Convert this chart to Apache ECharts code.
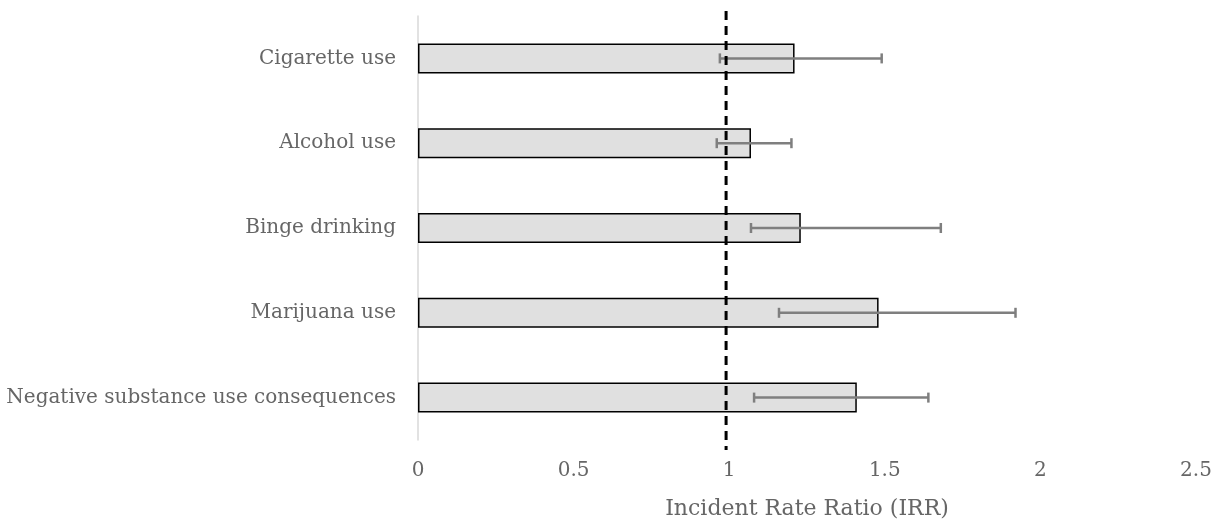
<!DOCTYPE html>
<html>
<head>
<meta charset="utf-8">
<script src="https://cdn.jsdelivr.net/npm/echarts@6/dist/echarts.min.js"></script>
<style>
html,body{margin:0;padding:0;background:#fff;}
#chart{width:1228px;height:525px;}
</style>
</head>
<body>
<div id="chart"></div>
<script>
var categories = ['Cigarette use', 'Alcohol use', 'Binge drinking', 'Marijuana use', 'Negative substance use consequences'];
var irrValues = [1.21, 1.07, 1.23, 1.48, 1.41];
var ciLower = [0.97, 0.96, 1.07, 1.16, 1.08];
var ciUpper = [1.49, 1.20, 1.68, 1.92, 1.64];
var referenceLine = 0.99;
var xTicks = {min: 0, max: 2.5, interval: 0.5};
var xAxisTitle = 'Incident Rate Ratio (IRR)';

var FONT = 'DejaVu Serif';
var TXT = '#666666';

var errData = categories.map(function (c, i) { return [i, ciLower[i], ciUpper[i]]; });

var chart = echarts.init(document.getElementById('chart'));
chart.setOption({
  animation: false,
  backgroundColor: '#ffffff',
  grid: {left: 418, right: 32, top: 16, bottom: 84, containLabel: false},
  xAxis: {
    type: 'value', min: xTicks.min, max: xTicks.max, interval: xTicks.interval,
    splitLine: {show: false}, axisLine: {show: false}, axisTick: {show: false},
    axisLabel: {color: TXT, fontFamily: FONT, fontSize: 20, margin: 21},
    name: xAxisTitle, nameLocation: 'middle', nameGap: 58,
    nameTextStyle: {color: TXT, fontFamily: FONT, fontSize: 22}
  },
  yAxis: {
    type: 'category', data: categories, inverse: true,
    axisLine: {show: true, lineStyle: {color: '#d9d9d9', width: 1.5}},
    axisTick: {show: false},
    axisLabel: {color: TXT, fontFamily: FONT, fontSize: 20, margin: 22}
  },
  series: [
    {
      type: 'bar', data: irrValues, barWidth: 30,
      itemStyle: {color: '#e0e0e0', borderColor: '#000', borderWidth: 1.5},
      z: 2
    },
    {
      type: 'custom', data: errData, z: 3,
      encode: {x: [1, 2], y: 0},
      renderItem: function (params, api) {
        var ci = api.value(0);
        var lo = api.coord([api.value(1), ci]);
        var hi = api.coord([api.value(2), ci]);
        var h = 5;
        var st = {stroke: '#7f7f7f', lineWidth: 2.5};
        return {type: 'group', children: [
          {type: 'line', shape: {x1: lo[0], y1: lo[1], x2: hi[0], y2: hi[1]}, style: st},
          {type: 'line', shape: {x1: lo[0], y1: lo[1] - h, x2: lo[0], y2: lo[1] + h}, style: st},
          {type: 'line', shape: {x1: hi[0], y1: hi[1] - h, x2: hi[0], y2: hi[1] + h}, style: st}
        ]};
      }
    },
    {
      type: 'custom', data: [[referenceLine]], z: 4,
      encode: {x: 0},
      renderItem: function (params, api) {
        var p = api.coord([api.value(0), 0]);
        var cs = params.coordSys;
        return {type: 'line',
          shape: {x1: p[0], y1: cs.y - 5, x2: p[0], y2: cs.y + cs.height + 10},
          style: {stroke: '#000', lineWidth: 3, lineDash: [9, 6]}};
      }
    }
  ]
});
</script>
</body>
</html>
